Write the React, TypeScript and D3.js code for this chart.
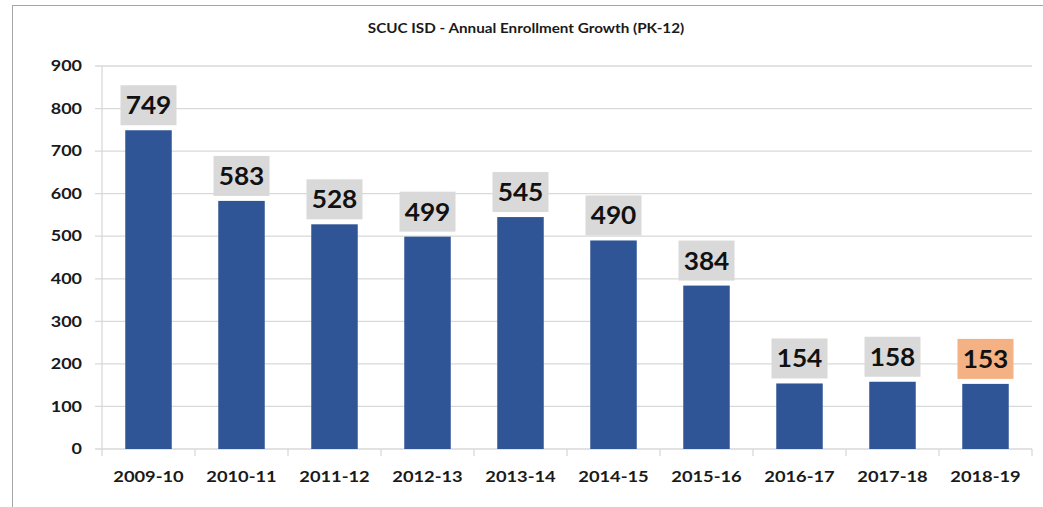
import { useRef, useEffect } from 'react'
import * as d3 from 'd3'

const years = ['2009-10', '2010-11', '2011-12', '2012-13', '2013-14', '2014-15', '2015-16', '2016-17', '2017-18', '2018-19']
const growth = [749, 583, 528, 499, 545, 490, 384, 154, 158, 153]
const yTicks = [0, 100, 200, 300, 400, 500, 600, 700, 800, 900]
const title = 'SCUC ISD - Annual Enrollment Growth (PK-12)'

const W = 1043
const H = 507
const FONT = 'Lato, "Open Sans", sans-serif'

export default function App() {
  const svgRef = useRef<SVGSVGElement>(null)

  useEffect(() => {
    if (!svgRef.current) return
    const svg = d3.select(svgRef.current)
    svg.selectAll('*').remove()

    const margin = { top: 66, right: 11, bottom: 58, left: 102 }
    const innerW = W - margin.left - margin.right
    const innerH = H - margin.top - margin.bottom

    // chart frame
    svg.append('rect')
      .attr('x', 12.5).attr('y', 5.5)
      .attr('width', W + 20).attr('height', H + 20)
      .attr('fill', '#fff').attr('stroke', '#a6a6a6')

    // the source picture is stretched sideways, so the text is widened a bit
    svg.append('text')
      .attr('transform', 'translate(526,33) scale(1.22,1)')
      .attr('text-anchor', 'middle')
      .attr('font-family', FONT).attr('font-weight', 700)
      .attr('font-size', 12.5).attr('fill', '#1a1a1a')
      .text(title)

    const x = d3.scaleBand<string>().domain(years).range([0, innerW]).paddingInner(0.5).paddingOuter(0.25)
    const y = d3.scaleLinear().domain([0, 900]).range([innerH, 0])

    const g = svg.append('g').attr('transform', `translate(${margin.left},${margin.top})`)

    g.selectAll('line.grid')
      .data(yTicks)
      .join('line')
      .attr('x1', -7).attr('x2', innerW)
      .attr('y1', d => y(d)).attr('y2', d => y(d))
      .attr('stroke', '#d9d9d9').attr('stroke-width', 1.3)

    g.append('line')
      .attr('x1', 0).attr('x2', 0).attr('y1', 0).attr('y2', innerH)
      .attr('stroke', '#d9d9d9').attr('stroke-width', 1.3)

    const step = x.step()
    g.selectAll('line.xtick')
      .data(d3.range(years.length + 1))
      .join('line')
      .attr('x1', i => i * step).attr('x2', i => i * step)
      .attr('y1', innerH).attr('y2', innerH + 7)
      .attr('stroke', '#d9d9d9').attr('stroke-width', 1.3)

    g.selectAll('text.ylab')
      .data(yTicks)
      .join('text')
      .attr('transform', d => `translate(-20,${y(d)}) scale(1.2,1)`)
      .attr('dy', '0.35em')
      .attr('text-anchor', 'end')
      .attr('font-family', FONT).attr('font-weight', 700)
      .attr('font-size', 15).attr('fill', '#1a1a1a')
      .text(d => d)

    g.selectAll('text.xlab')
      .data(years)
      .join('text')
      .attr('transform', d => `translate(${(x(d) ?? 0) + x.bandwidth() / 2},${innerH + 28}) scale(1.18,1)`)
      .attr('dy', '0.35em')
      .attr('text-anchor', 'middle')
      .attr('font-family', FONT).attr('font-weight', 700)
      .attr('font-size', 15.5).attr('fill', '#1a1a1a')
      .text(d => d)

    g.selectAll('rect.bar')
      .data(growth)
      .join('rect')
      .attr('x', (_, i) => x(years[i]) ?? 0)
      .attr('y', d => y(d))
      .attr('width', x.bandwidth())
      .attr('height', d => innerH - y(d))
      .attr('fill', '#2f5597')

    const boxW = 56
    const boxH = 40
    const lab = g.selectAll('g.lab')
      .data(growth)
      .join('g')
      .attr('transform', (d, i) => `translate(${(x(years[i]) ?? 0) + x.bandwidth() / 2},${y(d) - 5 - boxH / 2})`)

    lab.append('rect')
      .attr('x', -boxW / 2).attr('y', -boxH / 2)
      .attr('width', boxW).attr('height', boxH)
      .attr('fill', (_, i) => (i === growth.length - 1 ? '#f4b183' : '#d9d9d9'))

    lab.append('text')
      .attr('transform', 'scale(1.05,1)')
      .attr('text-anchor', 'middle')
      .attr('dy', '0.36em')
      .attr('font-family', FONT).attr('font-weight', 700)
      .attr('font-size', 25).attr('fill', '#111')
      .text(d => d)
  }, [])

  return <svg ref={svgRef} width={W} height={H} style={{ display: 'block', position: 'absolute', left: 0, top: 0 }} />
}
